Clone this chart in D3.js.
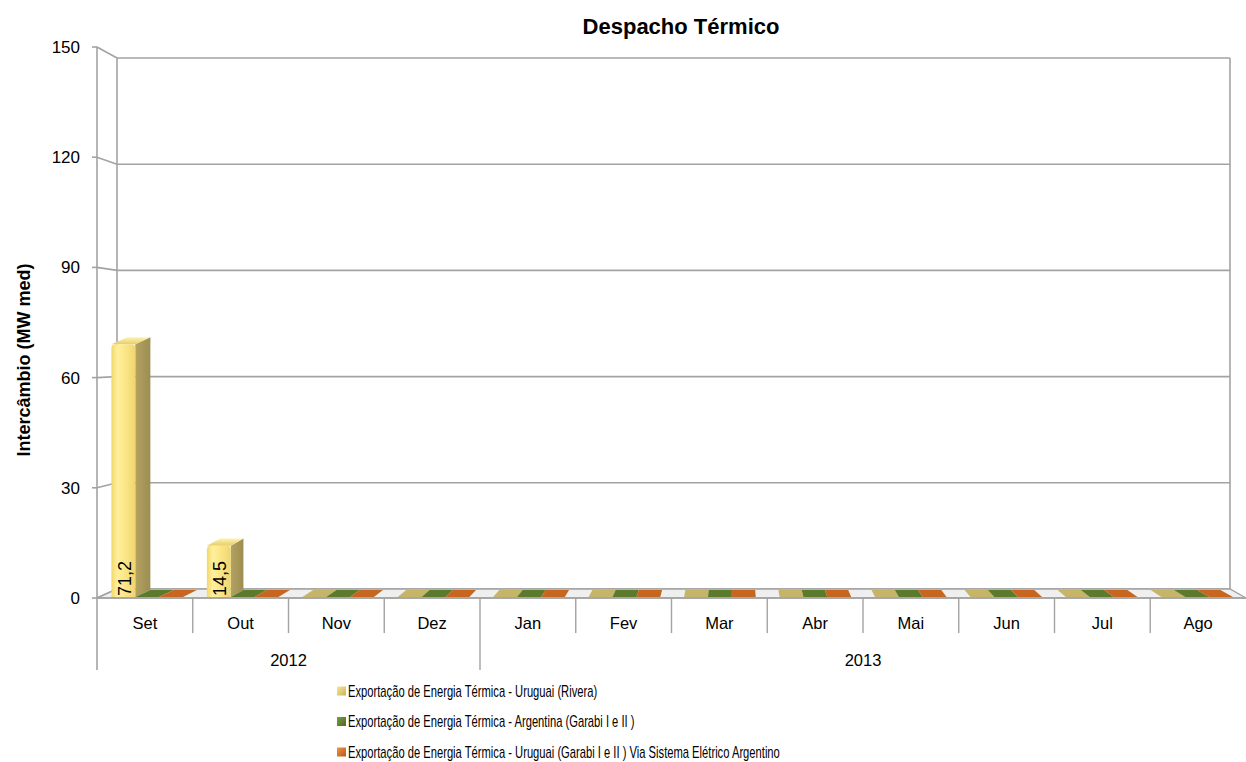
<!DOCTYPE html>
<html>
<head>
<meta charset="utf-8">
<script src="https://cdn.jsdelivr.net/npm/d3@7"></script>
<style>
  html, body { margin: 0; padding: 0; background: #ffffff; }
  svg { display: block; }
  text { font-family: "Liberation Sans", Arial, sans-serif; fill: #000; }
</style>
</head>
<body>
<svg id="chart" width="1246" height="762"></svg>
<script>
// Monthly thermal export dispatch (MW med), Sep 2012 – Aug 2013
const months = ["Set", "Out", "Nov", "Dez", "Jan", "Fev", "Mar", "Abr", "Mai", "Jun", "Jul", "Ago"];
const monthYear = ["2012", "2012", "2012", "2012", "2013", "2013", "2013", "2013", "2013", "2013", "2013", "2013"];
const years = ["2012", "2013"];
const seriesNames = [
  "Exportação de Energia Térmica - Uruguai (Rivera)",
  "Exportação de Energia Térmica - Argentina (Garabi I e II )",
  "Exportação de Energia Térmica - Uruguai (Garabi I e II ) Via Sistema Elétrico Argentino"
];
const uruguaiRivera = [71.2, 14.5, 0, 0, 0, 0, 0, 0, 0, 0, 0, 0];
const argentinaGarabi = [0, 0, 0, 0, 0, 0, 0, 0, 0, 0, 0, 0];
const uruguaiViaArgentina = [0, 0, 0, 0, 0, 0, 0, 0, 0, 0, 0, 0];
const yTicks = [0, 30, 60, 90, 120, 150];
const yTickLabels = ["0", "30", "60", "90", "120", "150"];

const seriesValues = [uruguaiRivera, argentinaGarabi, uruguaiViaArgentina];

const svg = d3.select("#chart");

// ---- geometry of the 3D box ----
const frontLeft = 97, frontRight = 1246;
const backLeft = 117, backRight = 1230;
const floorFront = 598, floorBack = 589;
const depthRise = floorFront - floorBack;

const x = d3.scaleBand().domain(months).range([frontLeft, frontRight]).padding(0);
const yFront = d3.scaleLinear().domain([0, 150]).range([598, 47]);
const yBack = d3.scaleLinear().domain([0, 150]).range([589, 58]);
// value scale for the bar bodies (front plane of the floor)
const yBar = d3.scaleLinear().domain([0, 150]).range([598, 65.5]);
// sideways drift of a point when it moves from the front to the back of the box
const drift = d3.scaleLinear().domain([frontLeft, frontRight]).range([backLeft - frontLeft, backRight - frontRight]);
const seriesPos = d3.scaleBand().domain(d3.range(3))
  .range([0.13 * x.bandwidth(), 0.13 * x.bandwidth() + 0.75 * x.bandwidth()]).padding(0);

function proj(xf, v, z) {
  return [xf + z * drift(xf), yBar(v) - z * depthRise];
}

const gridColor = "#a3a3a3";

// ---- defs: gradients for the bars ----
const defs = svg.append("defs");
function linGrad(id, stops, x2 = "100%", y2 = "0%") {
  const g = defs.append("linearGradient").attr("id", id)
    .attr("x1", "0%").attr("y1", "0%").attr("x2", x2).attr("y2", y2);
  stops.forEach(([o, c]) => g.append("stop").attr("offset", o).attr("stop-color", c));
}
linGrad("yFront", [["0%", "#f2d86a"], ["25%", "#fff09c"], ["55%", "#fbe789"], ["100%", "#efd570"]]);
linGrad("ySide", [["0%", "#b3a260"], ["100%", "#9c8d52"]]);
linGrad("yTop", [["0%", "#fff3b0"], ["100%", "#e4cd6a"]], "0%", "100%");
linGrad("legY", [["0%", "#f7e69a"], ["100%", "#c9b35a"]], "100%", "100%");
linGrad("legG", [["0%", "#7d9a48"], ["100%", "#4d6a22"]], "100%", "100%");
linGrad("legO", [["0%", "#ee944a"], ["100%", "#b85a18"]], "100%", "100%");

const seriesStyle = [
  { front: "url(#yFront)", side: "url(#ySide)", top: "url(#yTop)", flat: "#c6b467", legend: "url(#legY)" },
  { front: "#5f7d2f", side: "#4b6524", top: "#6b8a37", flat: "#5c7a2c", legend: "url(#legG)" },
  { front: "#c8671f", side: "#a55418", top: "#d87a30", flat: "#c6661f", legend: "url(#legO)" }
];

// ---- back wall gridlines ----
const grid = svg.append("g");
grid.selectAll("line.back").data(yTicks).join("line")
  .attr("x1", backLeft).attr("x2", backRight)
  .attr("y1", d => yBack(d)).attr("y2", d => yBack(d))
  .attr("stroke", gridColor).attr("stroke-width", 1.6);
// left side wall: lines from the value axis to the back wall
grid.selectAll("line.side").data(yTicks).join("line")
  .attr("x1", frontLeft).attr("x2", backLeft)
  .attr("y1", d => yFront(d)).attr("y2", d => yBack(d))
  .attr("stroke", gridColor).attr("stroke-width", 1.6);
// wall edges
grid.append("line").attr("x1", backLeft).attr("x2", backLeft)
  .attr("y1", yBack(150)).attr("y2", yBack(0)).attr("stroke", gridColor).attr("stroke-width", 1.6);
grid.append("line").attr("x1", backRight).attr("x2", backRight)
  .attr("y1", yBack(150)).attr("y2", yBack(0)).attr("stroke", gridColor).attr("stroke-width", 1.6);

// ---- floor ----
svg.append("path")
  .attr("d", `M${frontLeft},${floorFront}L${backLeft},${floorBack}L${backRight},${floorBack}L${frontRight},${floorFront}Z`)
  .attr("fill", "#efefef").attr("stroke", gridColor).attr("stroke-width", 1.4);

// ---- value axis ----
const yAxis = svg.append("g");
yAxis.append("line").attr("x1", frontLeft).attr("x2", frontLeft)
  .attr("y1", yFront(150)).attr("y2", 670).attr("stroke", gridColor).attr("stroke-width", 1.6);
yAxis.selectAll("line.tick").data(yTicks).join("line")
  .attr("x1", frontLeft - 5).attr("x2", frontLeft)
  .attr("y1", d => yFront(d)).attr("y2", d => yFront(d))
  .attr("stroke", gridColor).attr("stroke-width", 1.6);
yAxis.selectAll("text").data(yTicks).join("text")
  .attr("x", 80).attr("y", d => yFront(d)).attr("dy", "0.35em")
  .attr("text-anchor", "end").style("font-size", "17px")
  .text((d, i) => yTickLabels[i]);

// ---- bars ----
const barZ0 = 0.1, barZ1 = 0.9;
const bars = [];
seriesValues.forEach((vals, s) => {
  vals.forEach((v, i) => bars.push({ s, i, v, month: months[i] }));
});
const barG = svg.append("g");
bars.forEach(b => {
  const st = seriesStyle[b.s];
  const x0 = x(b.month) + seriesPos(b.s);
  const x1 = x0 + seriesPos.bandwidth();
  const poly = pts => "M" + pts.map(p => p.join(",")).join("L") + "Z";
  const g = barG.append("g");
  if (b.v === 0) {
    g.append("path")
      .attr("d", poly([proj(x0, 0, barZ0), proj(x1, 0, barZ0), proj(x1, 0, barZ1), proj(x0, 0, barZ1)]))
      .attr("fill", st.flat);
    return;
  }
  // side face (right side for bars left of the vanishing line)
  const sideX = drift(x1) > 0 ? x1 : x0;
  g.append("path")
    .attr("d", poly([proj(sideX, 0, barZ0), proj(sideX, 0, barZ1), proj(sideX, b.v, barZ1), proj(sideX, b.v, barZ0)]))
    .attr("fill", st.side);
  // top face
  g.append("path")
    .attr("d", poly([proj(x0, b.v, barZ0), proj(x1, b.v, barZ0), proj(x1, b.v, barZ1), proj(x0, b.v, barZ1)]))
    .attr("fill", st.top);
  // front face with softened top corners
  const [fx0, fyb] = proj(x0, 0, barZ0);
  const [fx1] = proj(x1, 0, barZ0);
  const fyt = proj(x0, b.v, barZ0)[1];
  const r = 4;
  g.append("path")
    .attr("d", `M${fx0},${fyb}L${fx0},${fyt + r}Q${fx0},${fyt} ${fx0 + r},${fyt}L${fx1 - r},${fyt}Q${fx1},${fyt} ${fx1},${fyt + r}L${fx1},${fyb}Z`)
    .attr("fill", st.front);
  // value label, rotated, sitting at the base of the bar
  const cx = (fx0 + fx1) / 2 + 1;
  g.append("text")
    .attr("transform", `translate(${cx},${fyb - 1}) rotate(-90)`)
    .attr("dy", "0.35em")
    .style("font-size", "18px")
    .text(d3.format(".1f")(b.v).replace(".", ","));
});

// ---- category axis ----
const xAxis = svg.append("g");
xAxis.append("line").attr("x1", frontLeft).attr("x2", frontRight)
  .attr("y1", floorFront).attr("y2", floorFront).attr("stroke", gridColor).attr("stroke-width", 1.6);
xAxis.selectAll("line.mtick").data(months.slice(1)).join("line")
  .attr("x1", d => x(d)).attr("x2", d => x(d))
  .attr("y1", floorFront).attr("y2", d => (monthYear[months.indexOf(d)] !== monthYear[months.indexOf(d) - 1]) ? 670 : 633)
  .attr("stroke", gridColor).attr("stroke-width", 1.4);
xAxis.selectAll("text.month").data(months).join("text")
  .attr("x", d => x(d) + x.bandwidth() / 2).attr("y", 629)
  .attr("text-anchor", "middle").style("font-size", "16.5px")
  .text(d => d);
xAxis.selectAll("text.year").data(years).join("text")
  .attr("x", yr => {
    const idx = months.map((m, i) => i).filter(i => monthYear[i] === yr);
    return (x(months[idx[0]]) + x(months[idx[idx.length - 1]]) + x.bandwidth()) / 2;
  })
  .attr("y", 666).attr("text-anchor", "middle").style("font-size", "16.5px")
  .text(d => d);

// ---- titles ----
svg.append("text").attr("x", 681).attr("y", 33.5).attr("text-anchor", "middle")
  .style("font-size", "22px").style("font-weight", "bold").text("Despacho Térmico");
svg.append("text").attr("transform", "translate(30,360) rotate(-90)")
  .attr("text-anchor", "middle").style("font-size", "18px").style("font-weight", "bold")
  .text("Intercâmbio (MW med)");

// ---- legend (condensed type) ----
const legend = svg.append("g");
const legendY = [691, 721.5, 752];
seriesNames.forEach((name, s) => {
  legend.append("rect").attr("x", 337).attr("y", legendY[s] - 4.5).attr("width", 9).attr("height", 9)
    .attr("fill", seriesStyle[s].legend);
  legend.append("text")
    .attr("transform", `translate(348,${legendY[s]}) scale(0.7,1)`)
    .attr("dy", "0.35em")
    .style("font-size", "16px").text(name);
});
</script>
</body>
</html>
